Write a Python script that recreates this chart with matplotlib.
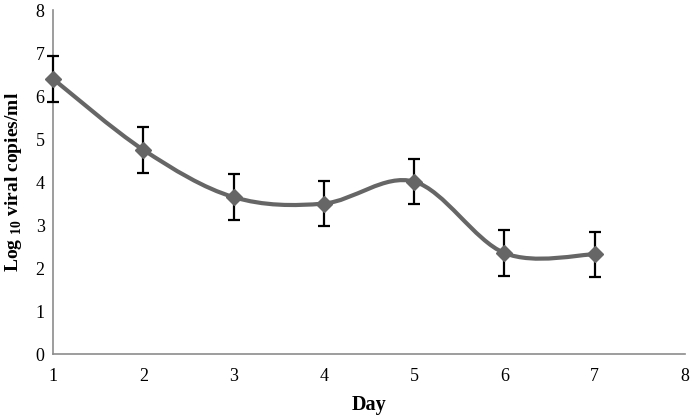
import numpy as np
import matplotlib
matplotlib.use("Agg")
import matplotlib.pyplot as plt
from matplotlib.path import Path
from matplotlib.patches import PathPatch

days = [1, 2, 3, 4, 5, 6, 7]
log_copies = [6.40, 4.75, 3.65, 3.50, 4.01, 2.35, 2.32]
err = [0.53, 0.53, 0.53, 0.53, 0.53, 0.53, 0.53]

LINE = "#666666"

plt.rcParams["font.family"] = ["Liberation Serif", "DejaVu Serif"]
plt.rcParams["mathtext.fontset"] = "custom"
plt.rcParams["mathtext.rm"] = "Liberation Serif"
plt.rcParams["mathtext.bf"] = "Liberation Serif:bold"

fig = plt.figure(figsize=(6.93, 4.19), dpi=100)
ax = fig.add_axes([0.0765, 0.155, 0.912, 0.821])


def smooth_path(xs, ys):
    # bezier segments like a spreadsheet "smoothed line"
    pts = np.column_stack([xs, ys]).astype(float)
    n = len(pts)
    verts = [pts[0]]
    codes = [Path.MOVETO]
    for i in range(n - 1):
        p0 = pts[i - 1] if i > 0 else pts[i]
        p1 = pts[i]
        p2 = pts[i + 1]
        p3 = pts[i + 2] if i + 2 < n else pts[i + 1]
        c1 = p1 + (p2 - p0) / 6
        c2 = p2 - (p3 - p1) / 6
        verts += [c1, c2, p2]
        codes += [Path.CURVE4] * 3
    return Path(verts, codes)


ax.add_patch(PathPatch(smooth_path(days, log_copies), fill=False,
                       edgecolor=LINE, lw=3, capstyle="round", zorder=2))
ax.errorbar(days, log_copies, yerr=err, fmt="none", ecolor="black",
            elinewidth=1.6, capsize=4.5, capthick=1.6, zorder=3, clip_on=False)
ax.plot(days, log_copies, linestyle="none", marker="D", markersize=8,
        color=LINE, zorder=4, clip_on=False)

ax.set_xlim(1, 8)
ax.set_ylim(0, 8)
ax.set_xticks(range(1, 9))
ax.set_yticks(range(0, 9))
ax.tick_params(length=0, labelsize=13)
ax.tick_params(axis="x", pad=10)
ax.tick_params(axis="y", pad=6)

for s in ["top", "right"]:
    ax.spines[s].set_visible(False)
for s in ["left", "bottom"]:
    ax.spines[s].set_color("#8c8c8c")
    ax.spines[s].set_linewidth(1.2)

ax.set_xlabel("Day", fontsize=14.5, fontweight="bold", labelpad=7)
ax.set_ylabel("Log $_{\\mathbf{10}}$ viral copies/ml", fontsize=14,
              fontweight="bold", labelpad=8)

fig.savefig("out.png", dpi=100)
